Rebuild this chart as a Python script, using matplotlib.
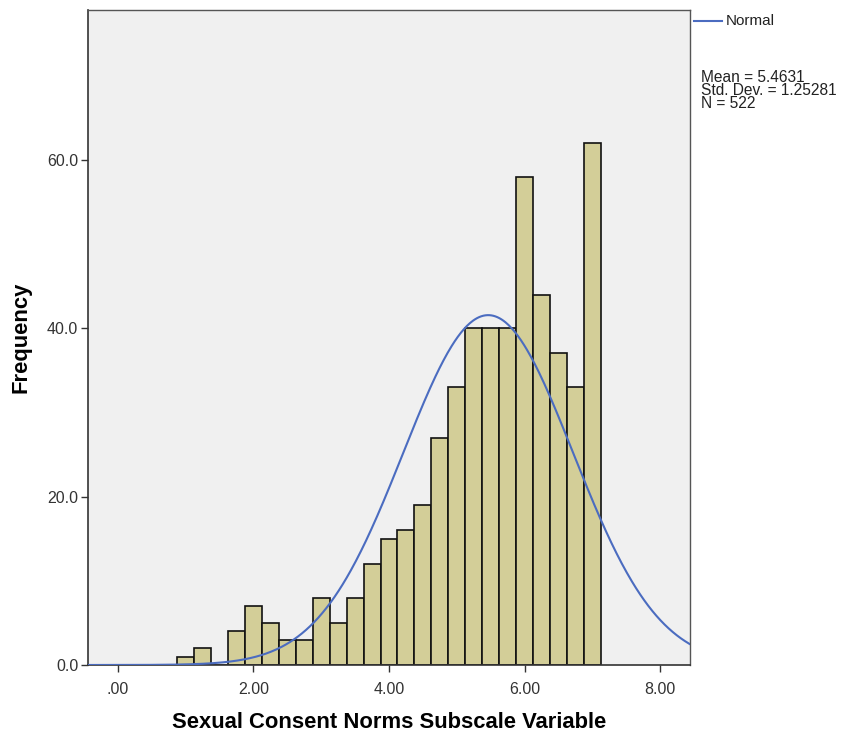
import numpy as np
import matplotlib
matplotlib.use('Agg')
import matplotlib.pyplot as plt

# 数据：直方图分箱中心和频数
bin_centers = [1.00, 1.25, 1.50, 1.75, 2.00, 2.25, 2.50, 2.75, 3.00, 3.25,
               3.50, 3.75, 4.00, 4.25, 4.50, 4.75, 5.00, 5.25, 5.50, 5.75,
               6.00, 6.25, 6.50, 6.75, 7.00]
frequencies = [1, 2, 0, 4, 7, 5, 3, 3, 8, 5,
               8, 12, 15, 16, 19, 27, 33, 40, 40, 40,
               58, 44, 37, 33, 62]
bin_width = 0.25
mean_val = 5.4631
std_val = 1.25281
n_val = 522
x_ticks = [0, 2, 4, 6, 8]
y_ticks = [0, 20, 40, 60]

plt.rcParams['font.family'] = ['Liberation Sans', 'DejaVu Sans']

fig = plt.figure(figsize=(8.47, 7.37), dpi=100)
ax = fig.add_axes([88 / 847, 1 - 665 / 737, (690 - 88) / 847, (665 - 10) / 737])
ax.set_facecolor('#F0F0F0')

ax.bar(bin_centers, frequencies, width=bin_width, color='#D3CE98',
       edgecolor='#111111', linewidth=1.2, zorder=2)

# 正态曲线
xs = np.linspace(-0.5, 8.5, 600)
pdf = np.exp(-0.5 * ((xs - mean_val) / std_val) ** 2) / (std_val * np.sqrt(2 * np.pi))
ax.plot(xs, n_val * bin_width * pdf, color='#4B6CC0', linewidth=1.5, zorder=3)

ax.set_xlim(-0.44, 8.44)
ax.set_ylim(0, 77.8)
ax.set_xticks(x_ticks)
ax.set_xticklabels(['%.2f' % t if t != 0 else '.00' for t in x_ticks])
ax.set_yticks(y_ticks)
ax.set_yticklabels(['%.1f' % t for t in y_ticks])
ax.tick_params(axis='both', length=5, width=1, color='#333333',
               labelsize=11.5, labelcolor='#333333', direction='out')
ax.tick_params(axis='x', pad=7)
ax.tick_params(axis='y', pad=2)

for side in ['left', 'bottom']:
    ax.spines[side].set_color('#333333')
    ax.spines[side].set_linewidth(1.2)
for side in ['top', 'right']:
    ax.spines[side].set_color('#555555')
    ax.spines[side].set_linewidth(1.0)

ax.set_xlabel('Sexual Consent Norms Subscale Variable', fontsize=15.8,
              fontweight='bold', labelpad=11)
ax.set_ylabel('Frequency', fontsize=15.8, fontweight='bold', labelpad=11)

# 图例和统计信息
fig.lines.append(plt.Line2D([694 / 847, 722 / 847], [1 - 21 / 737, 1 - 21 / 737],
                            color='#4B6CC0', linewidth=1.5, transform=fig.transFigure))
fig.text(726 / 847, 1 - 21 / 737, 'Normal', fontsize=11, va='center', color='#222222')
fig.text(701 / 847, 1 - 70 / 737,
         'Mean = %.4f\nStd. Dev. = %.5f\nN = %d' % (mean_val, std_val, n_val),
         fontsize=11.2, va='top', color='#222222', linespacing=0.84)

fig.savefig('out.png', dpi=100)
